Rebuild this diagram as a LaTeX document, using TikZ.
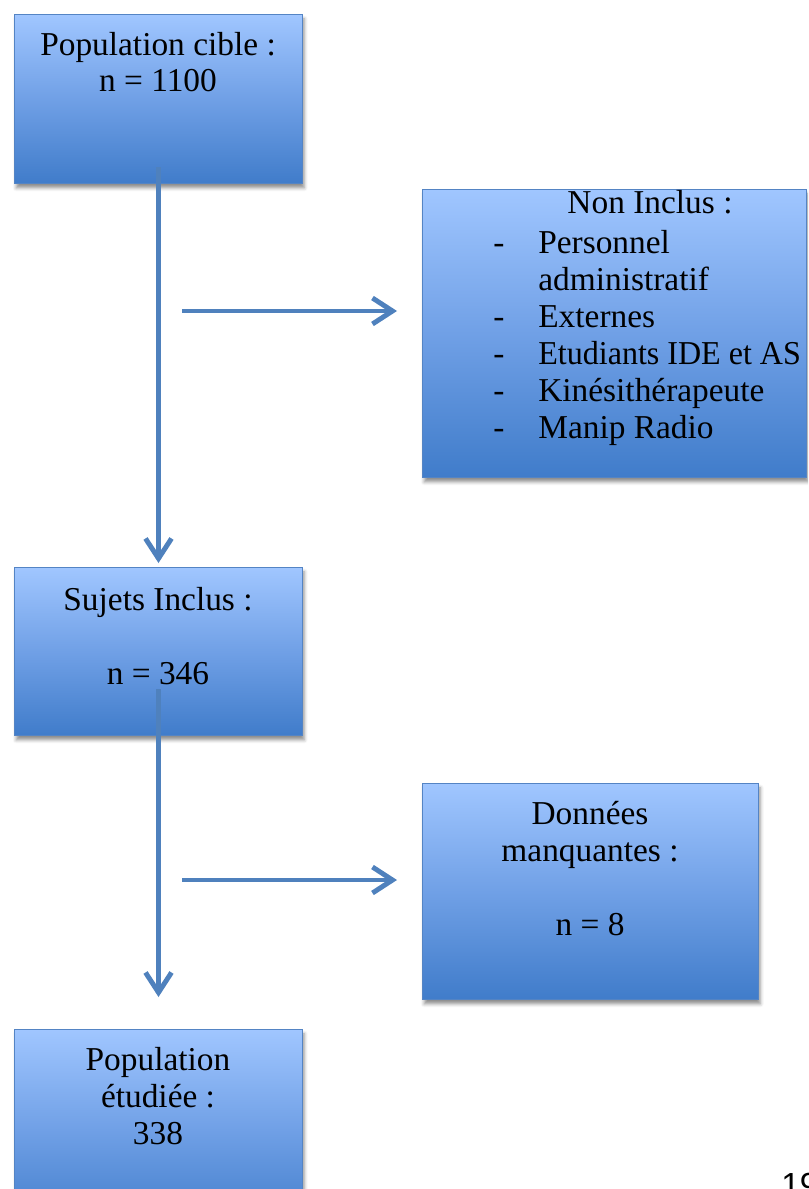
\documentclass[tikz,border=0pt]{standalone}
\usepackage{fontspec}
\setmainfont{Liberation Serif}
\newfontfamily\pagefont{Liberation Sans}
\usetikzlibrary{arrows.meta}
\usetikzlibrary{shadows.blur, math}
\definecolor{boxtop}{RGB}{160,198,255}
\definecolor{boxmid}{RGB}{112,160,230}
\definecolor{boxbot}{RGB}{64,124,202}
\definecolor{boxline}{RGB}{84,132,196}
\definecolor{flowblue}{RGB}{79,129,189}

\tikzset{
box/.style={rectangle, draw=boxline, line width=0.6pt, top color=boxtop, bottom color=boxbot, middle color=boxmid, inner sep=0pt, anchor=north west, blur shadow={shadow xshift=1pt, shadow yshift=-2.5pt, shadow blur radius=2pt, shadow opacity=45}},
boxtext/.style={font=\fontsize{19}{21.05}\selectfont, align=center, anchor=base, inner sep=0pt},
flow/.style={draw=flowblue, line width=2.8pt, -{Straight Barb[length=0.4cm, width=0.52cm]}}
}

\begin{document}
\begin{tikzpicture}[x=0.02cm, y=-0.02cm]
\tikzmath{
\bw=5.76;
\bh=3.38;
\nw=7.68;
\nh=5.76;
\mw=6.72;
\mh=4.32;
}
\path[use as bounding box, clip] (0,0) rectangle (808,1189);
%boxes
\node[box, minimum width=\bw cm, minimum height=\bh cm] (cible) at (14,14) {};
\node[box, minimum width=\nw cm, minimum height=\nh cm] (noninclus) at (422,189) {};
\node[box, minimum width=\bw cm, minimum height=3.36cm] (inclus) at (14,567) {};
\node[box, minimum width=\mw cm, minimum height=\mh cm] (manquantes) at (422,783) {};
\node[box, minimum width=\bw cm, minimum height=4cm] (etudiee) at (14,1029) {};

%texts (base = last line)
\node[boxtext] (cibletxt) at (158,92) {Population cible :\\ n = 1100};
\node[boxtext] (nontxt) at (650,214) {Non Inclus :};
\node[boxtext, anchor=north west] (nonlist) at (493,227) {%
\begin{tabular}[t]{@{}p{0.9cm}@{}l@{}}
- & Personnel\\
  & administratif\\
- & Externes\\
- & \scalebox{0.96}[1]{Etudiants IDE et AS}\\
- & Kinésithérapeute\\
- & Manip Radio
\end{tabular}};
\node[boxtext] (inclustxt) at (158,684) {Sujets Inclus :\\[21.05pt] n = 346};
\node[boxtext] (manqtxt) at (590,935) {Données\\ manquantes :\\[21.05pt] n = 8};
\node[boxtext] (etudtxt) at (158,1144) {Population\\ étudiée :\\ 338};
\node[font=\pagefont\fontsize{19}{22}\selectfont, anchor=base west, inner sep=0pt] (page) at (781,1196) {19};

%arrows
\coordinate (out1) at (182,311);
\coordinate (in1) at (397,311);
\coordinate (out2) at (182,880);
\coordinate (in2) at (397,880);
\draw[flow] ([yshift=0.34cm]cible.south) -- ([yshift=0.08cm]inclus.north);
\draw[flow] ([yshift=0.94cm]inclus.south) -- ([yshift=0.64cm]etudiee.north);
\draw[flow] (out1) -- (in1);
\draw[flow] (out2) -- (in2);
\end{tikzpicture}
\end{document}
